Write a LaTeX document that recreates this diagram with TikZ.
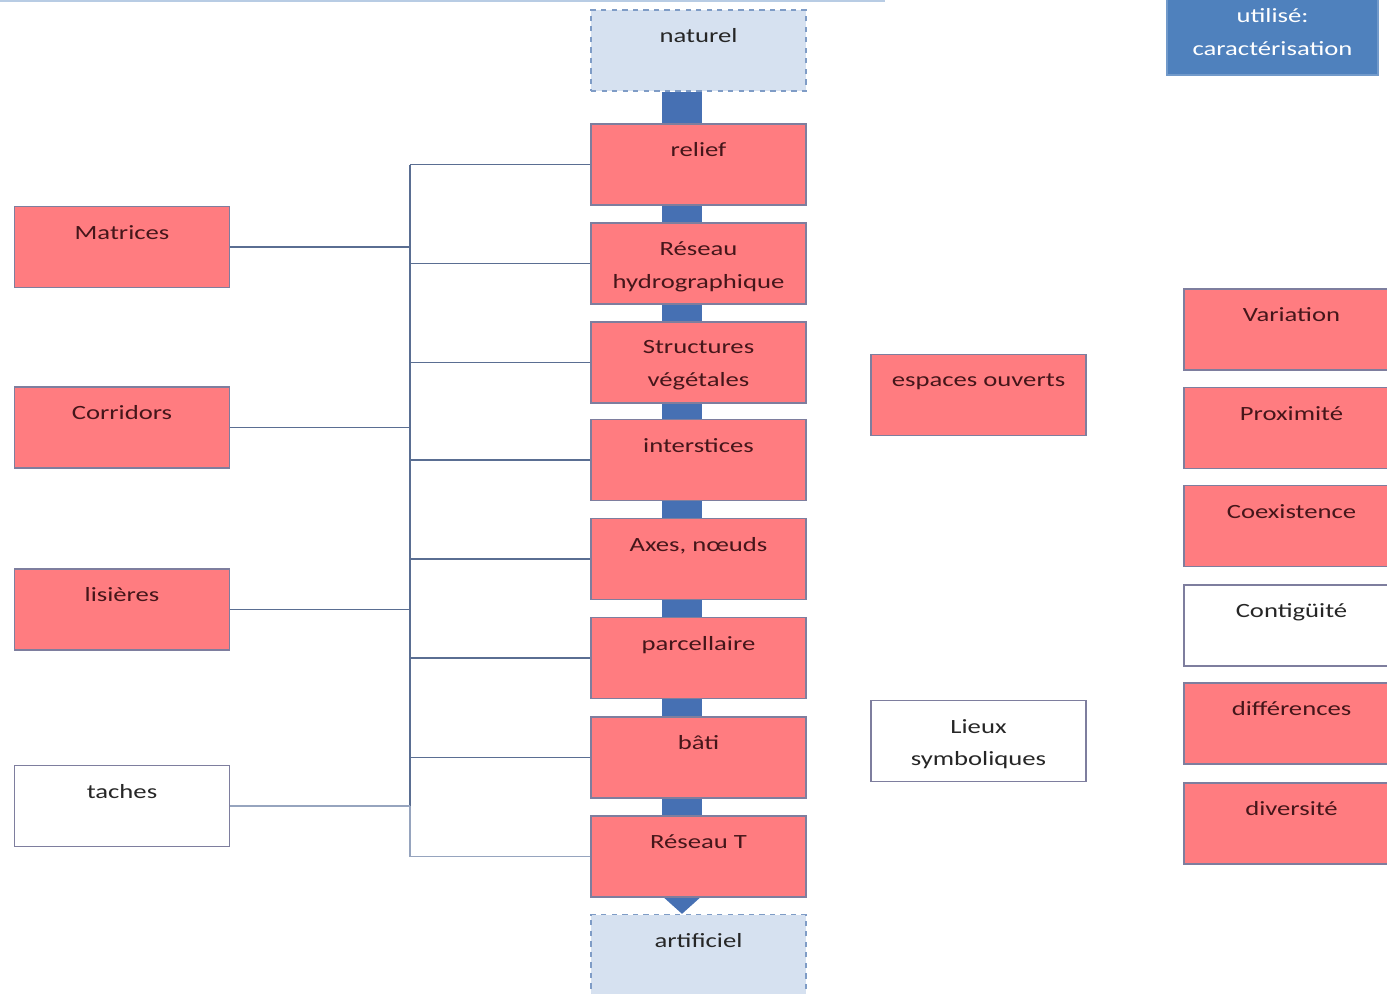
\documentclass[tikz,border=0pt]{standalone}
\usepackage{fontspec}
\setmainfont{Carlito}[FakeStretch=1.32]
\usepackage{xcolor}
\definecolor{boxred}{HTML}{FF7C80}
\definecolor{boxline}{HTML}{7E7E9E}
\definecolor{flowblue}{HTML}{4670B3}
\definecolor{endfill}{HTML}{D6E1F0}
\definecolor{endline}{HTML}{7F9CC6}
\definecolor{linkline}{HTML}{5A6E92}
\definecolor{linklight}{HTML}{96A4BE}
\definecolor{darktext}{HTML}{45161A}
\definecolor{toolblue}{HTML}{4F81BD}
\definecolor{topline}{HTML}{B8CCE4}
\usetikzlibrary{arrows.meta, positioning, backgrounds}

\begin{document}
\begin{tikzpicture}[x=0.02cm, y=-0.02cm,
  box/.style={draw=boxline, line width=0.7pt, minimum width=4.3cm,
              minimum height=1.62cm, inner sep=0pt},
  redbox/.style={box, fill=boxred},
  whitebox/.style={box, fill=white},
  endbox/.style={box, draw=endline, dashed, fill=endfill},
  toolbox/.style={box, draw=toolblue!80!white, fill=toolblue,
                  minimum width=4.22cm, minimum height=1.7cm},
  txt/.style={anchor=north, yshift=-0.38cm, inner sep=0pt, align=center,
              font=\fontsize{11.5}{18.5}\selectfont, text=darktext},
  txtdark/.style={txt, text=black!85},
  txtwhite/.style={txt, text=white},
  link/.style={draw=linkline, line width=1.1pt},
  linkpale/.style={draw=linklight, line width=1.1pt},
  flow/.style={line width=0.8cm, flowblue,
               -{Triangle[length=0.6cm, width=1.3cm]}}
]
\useasboundingbox (0,0) rectangle (1387,994);

% colonne centrale
\node[endbox, label={[txtdark]north:naturel}] (naturel) at (698.5,50.5) {};
\node[redbox, label={[txt]north:relief}] (relief) at (698.5,164.5) {};
\node[redbox, label={[txt]north:Réseau\\hydrographique}] (hydro) at (698.5,263.5) {};
\node[redbox, label={[txt]north:Structures\\végétales}] (vegetal) at (698.5,362.5) {};
\node[redbox, label={[txt]north:interstices}] (interst) at (698.5,460) {};
\node[redbox, label={[txt]north:Axes, nœuds}] (axes) at (698.5,559) {};
\node[redbox, label={[txt]north:parcellaire}] (parcel) at (698.5,658) {};
\node[redbox, label={[txt]north:bâti}] (bati) at (698.5,757.5) {};
\node[redbox, label={[txt]north:Réseau T}] (reseauT) at (698.5,856.5) {};
\node[endbox, label={[txtdark]north:artificiel}] (artif) at (698.5,955) {};

\begin{scope}[on background layer]
\draw[flow] ([xshift=-0.33cm]naturel.south) -- ([xshift=-0.33cm]artif.north);
\end{scope}

% colonne gauche
\node[redbox, label={[txt]north:Matrices}] (matrices) at (122,247) {};
\node[redbox, label={[txt]north:Corridors}] (corridors) at (122,427.5) {};
\node[redbox, label={[txt]north:lisières}] (lisieres) at (122,609.5) {};
\node[whitebox, label={[txtdark]north:taches}] (taches) at (122,806) {};

% accolade
\coordinate (spine) at (410,0);
\foreach \n in {relief, hydro, vegetal, interst, axes, parcel, bati}
  \draw[link] (\n.west) -- (\n.west -| spine);
\draw[linkpale] (reseauT.west) -- (reseauT.west -| spine);
\draw[link] (relief.west -| spine) -- (taches.east -| spine);
\draw[linkpale] (taches.east -| spine) -- (reseauT.west -| spine);
\foreach \n in {matrices, corridors, lisieres}
  \draw[link] (\n.east) -- (\n.east -| spine);
\draw[linkpale] (taches.east) -- (taches.east -| spine);

% milieu droit
\node[redbox, label={[txt]north:espaces ouverts}] (espaces) at (978.5,395) {};
\node[whitebox, label={[txtdark]north:Lieux\\symboliques}] (lieux) at (978.5,741) {};

% colonne droite
\node[redbox, label={[txt]north:Variation}] (variation) at (1291.5,329.5) {};
\node[redbox, label={[txt]north:Proximité}] (proxim) at (1291.5,428) {};
\node[redbox, label={[txt]north:Coexistence}] (coexist) at (1291.5,526) {};
\node[whitebox, label={[txtdark]north:Contigüité}] (contig) at (1291.5,625.5) {};
\node[redbox, label={[txt]north:différences}] (differ) at (1291.5,723.5) {};
\node[redbox, label={[txt]north:diversité}] (divers) at (1291.5,823.5) {};

\node[toolbox, label={[txtwhite]north:utilisé:\\caractérisation}] (outil) at (1272.5,32.5) {};

\draw[topline, line width=1.2pt] (0,1) -- (885,1);
\end{tikzpicture}
\end{document}
